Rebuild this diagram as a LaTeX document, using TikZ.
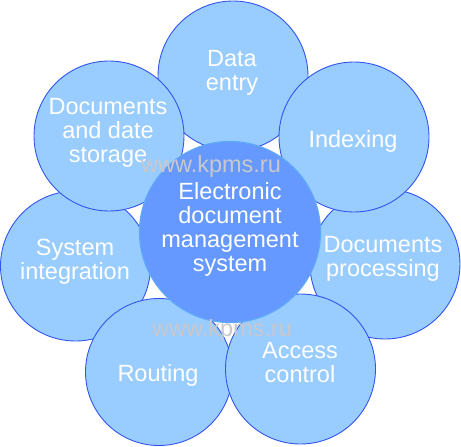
\documentclass[tikz,border=0pt]{standalone}
\usepackage{fontspec}
\setmainfont{Liberation Sans}
\definecolor{outerfill}{HTML}{99CCFF}
\definecolor{outerline}{HTML}{3355EE}
\definecolor{centerfill}{HTML}{6699FF}
\definecolor{centerline}{HTML}{5FA8F8}
\definecolor{wmark}{HTML}{C8C8CC}
\begin{document}
\begin{tikzpicture}[x=1pt,y=-1pt,
  outer/.style={circle,fill=outerfill,draw=outerline,line width=0.9pt,minimum size=150pt,inner sep=0pt},
  center/.style={circle,fill=centerfill,draw=centerline,line width=1.2pt,minimum size=181pt,inner sep=0pt},
  lbl/.style={text=white,align=center,anchor=base,inner sep=0pt,font=\fontsize{23.5}{24}\selectfont},
  wm/.style={text=wmark,anchor=base,inner sep=0pt,font=\fontsize{23.5}{24}\selectfont}]
\useasboundingbox (0,0) rectangle (461,447);
% bottom layer
\node[outer] (dentry) at (233,76) {};
\node[outer] (dproc) at (385,264) {};
\node[outer] (sysint) at (75.5,266) {};
% upper layer
\node[outer] (index) at (354,137) {};
\node[outer] (store) at (109,136) {};
\node[outer,minimum size=147pt] (route) at (159,372) {};
\node[outer] (access) at (300.5,369) {};
% center
\node[center] (edms) at (230,232) {};
% labels (anchor = baseline of last line)
\node[lbl] (tdentry) at (232,90) {Data\\entry};
\node[lbl] (tstore) at (108,162) {Documents\\and date\\storage};
\node[lbl] (tindex) at (353,147) {Indexing};
\node[lbl] (tedms) at (230,271) {Electronic\\document\\management\\system};
\node[lbl] (tdproc) at (383,276) {Documents\\processing};
\node[lbl] (tsysint) at (75,279) {System\\integration};
\node[lbl] (troute) at (158,381) {Routing};
\node[lbl] (taccess) at (300,382) {Access\\control};
% watermarks
\node[wm] (wm1) at (211,172) {www.kpms.ru};
\node[wm] (wm2) at (222,336) {www.kpms.ru};
\end{tikzpicture}
\end{document}
